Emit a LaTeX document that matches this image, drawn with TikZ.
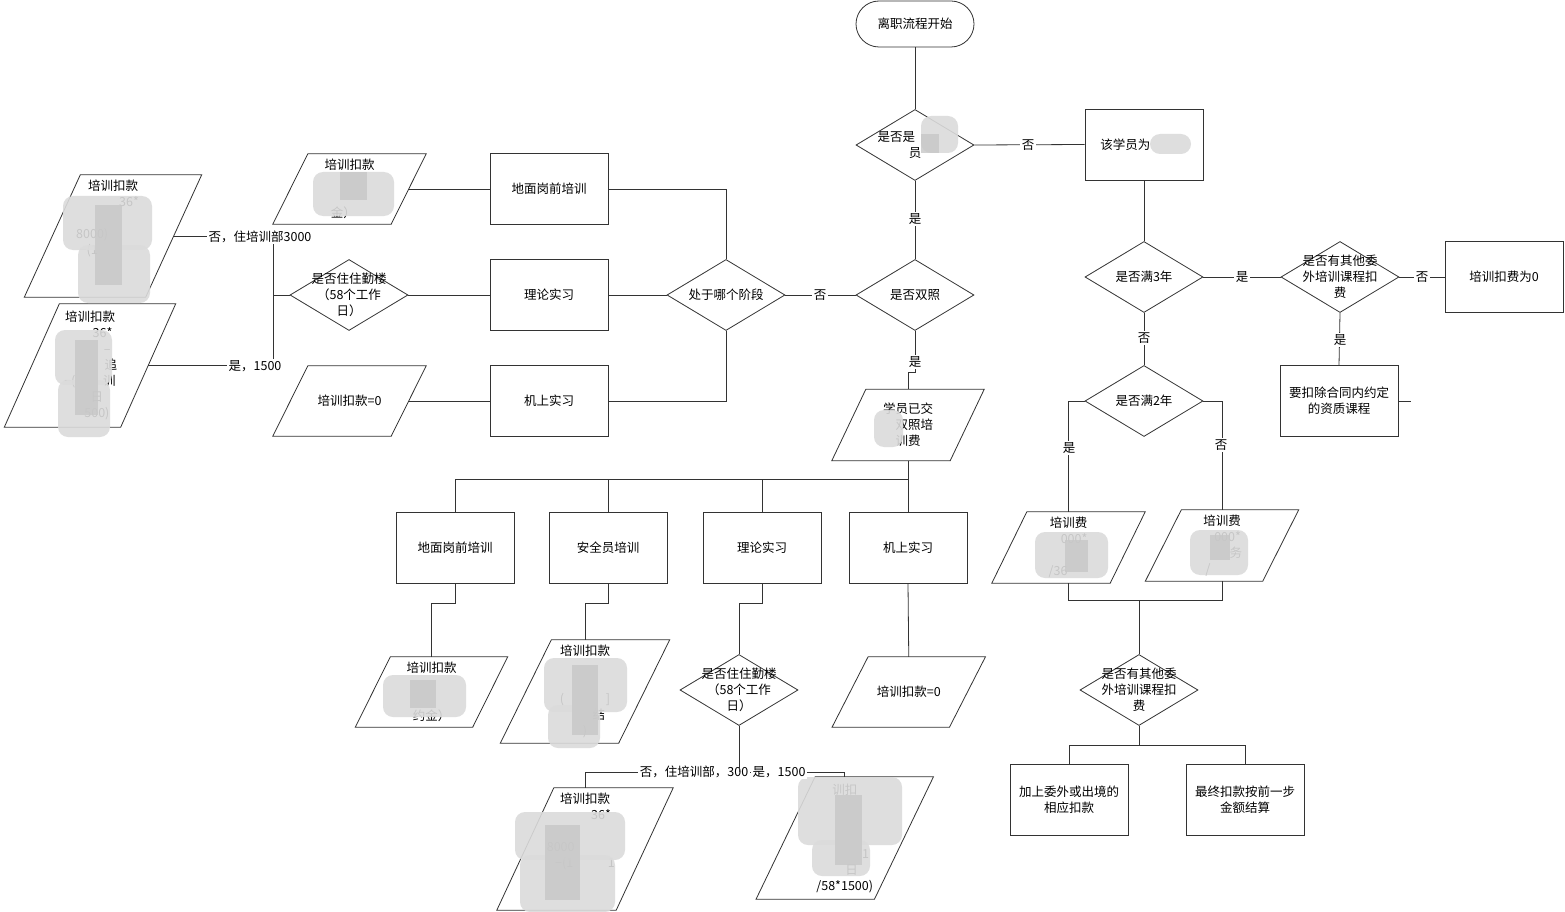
\documentclass[tikz,border=0pt]{standalone}
\usepackage{fontspec}
\newfontfamily\cjk{Noto Sans CJK SC}
\usetikzlibrary{shapes.geometric,calc}
\begin{document}
\begin{tikzpicture}[x=1pt,y=-1pt,
  every node/.style={font=\cjk\fontsize{12.5}{16}\selectfont, align=center, inner sep=0pt},
  ln/.style={draw=black!80, line width=0.8pt},
  box/.style={draw=black!80, line width=0.8pt, rectangle, minimum width=118pt, minimum height=71pt},
  term/.style={draw=black!80, line width=0.8pt, rectangle, rounded corners=23pt, minimum width=118pt, minimum height=46pt},
  dia/.style={draw=black!80, line width=0.8pt, diamond, minimum width=118pt, minimum height=71pt},
  pgram/.style 2 args={minimum width=#1pt, minimum height=#2pt},
  lbl/.style={fill=white, inner sep=1.5pt},
  blob/.style={fill=black!14, draw=none, rounded corners=10pt, fill opacity=0.9},
  blobd/.style={fill=black!22, draw=none, fill opacity=0.8}
]
\useasboundingbox[fill=white] (0,0) rectangle (1565,912);

% ---------- centre column ----------
\node[term] (start) at (915,24) {离职流程开始};
\node[dia] (d1) at (915,145) {};
\node (d1t) at (915,145) {是否是\phantom{乘务员}\\员};
\node[dia] (d2) at (915,295) {};
\node (d2t) at (915,295) {是否双照};
\node[dia] (d3) at (726,295) {};
\node (d3t) at (726,295) {处于哪个阶段};

% ---------- left upper ----------
\node[box] (g1) at (549,189) {地面岗前培训};
\node[box] (g2) at (549,295) {理论实习};
\node[box] (g3) at (549,401) {机上实习};
\node[pgram={118}{70}] (pC) at (349.5,189) {培训扣款\\ \strut\\ \strut\\ 金）\hphantom{约}};
\node[dia] (d4) at (349,295) {};
\node (d4t) at (349,295) {是否住住勤楼\\（58个工作\\日）};
\node[pgram={118}{70}] (pD) at (349.5,401) {培训扣款=0};
\node[pgram={121}{122}] (pA) at (113,236) {培训扣款\\ \hphantom{(3000}36*\\ \strut\\ 8000)\hphantom{000000}\\ −(1\hphantom{0000000}\\ \strut\\ \strut};
\node[pgram={116}{123}] (pB) at (90,365.5) {培训扣款\\ \hphantom{(300}36*\\ \hphantom{00000}–\\ \hphantom{000000}追\\ −(\hphantom{0000}训\\ \hphantom{00}日\\ \hphantom{00}500)};

% ---------- right ----------
\node[box] (bx) at (1144,144.5) {该学员为\phantom{乘务员}};
\node[dia] (d6) at (1144,277) {};
\node (d6t) at (1144,277) {是否满3年};
\node[dia] (d7) at (1340,277) {};
\node (d7t) at (1340,277) {是否有其他委\\外培训课程扣\\费};
\node[box] (bz) at (1504,277) {培训扣费为0};
\node[box] (bw) at (1339,401) {要扣除合同内约定\\的资质课程};
\node[dia] (d8) at (1144,401) {};
\node (d8t) at (1144,401) {是否满2年};
\node[pgram={118}{71}] (pK) at (1068.5,547.5) {培训费\\ \hphantom{(3}000*\\ \strut\\ /36\hphantom{000}};
\node[pgram={117}{71}] (pL) at (1222,545.5) {培训费\\ \hphantom{(3}000*\\ \hphantom{0000}务\\ /\hphantom{0000}};
\node[dia] (d9) at (1139,690) {};
\node (d9t) at (1139,690) {是否有其他委\\外培训课程扣\\费};
\node[box] (f1) at (1069,800) {加上委外或出境的\\相应扣款};
\node[box] (f2) at (1245,800) {最终扣款按前一步\\金额结算};

% ---------- bottom middle ----------
\node[pgram={118}{71}] (pE) at (908,425) {学员已交\\ \phantom{学}双照培\\ 训费};
\node[box] (h1) at (455,548) {地面岗前培训};
\node[box] (h2) at (608,548) {安全员培训};
\node[box] (h3) at (762,548) {理论实习};
\node[box] (h4) at (908,548) {机上实习};
\node[pgram={117}{70}] (pF) at (431.5,692) {培训扣款\\ \strut\\ \strut\\ 约金）};
\node[pgram={118}{103}] (pG) at (585,691.5) {培训扣款\\ \strut\\ \strut\\ (\hphantom{000000}]\\ \hphantom{0000}结\\ )};
\node[dia] (d5) at (739,690) {};
\node (d5t) at (739,690) {是否住住勤楼\\（58个工作\\日）};
\node[pgram={117}{70}] (pH) at (908.75,692) {培训扣款=0};
\node[pgram={119}{122}] (pI) at (585,849) {培训扣款\\ \hphantom{(3000}36*\\ \strut\\ 8000\hphantom{0000000}\\ −(1\hphantom{00000}1\\ \strut\\ \strut};
\node[pgram={118}{122}] (pJ) at (844.75,838) {\hphantom{培}训扣\hphantom{款}\\ \strut\\ \strut\\ \strut\\ \hphantom{000000}1\\ \hphantom{00}日\\ /58*1500)};

% ---------- parallelogram outlines ----------
\foreach \n/\s in {pA/56,pB/55,pC/35,pD/35,pE/34,pF/35,pG/51,pH/36,pI/57,pJ/59,pK/35,pL/36}
  \draw[ln] ([xshift=\s*0.5pt]\n.north west) -- ([xshift=\s*0.5pt]\n.north east)
        -- ([xshift=-\s*0.5pt]\n.south east) -- ([xshift=-\s*0.5pt]\n.south west) -- cycle;

% ---------- connectors ----------
\draw[ln] (start.south) -- (d1.north);
\draw[ln] (d1.south) -- (d2.north);
\draw[ln] (d1.east) -- (bx.west);
\draw[ln] (d2.west) -- (d3.east);
\draw[ln] (d3.north) |- (g1.east);
\draw[ln] (d3.west) -- (g2.east);
\draw[ln] (d3.south) |- (g3.east);
\draw[ln] (g1.west) -- (pC.east);
\draw[ln] (g2.west) -- (d4.east);
\draw[ln] (g3.west) -- (pD.east);
\coordinate (j1) at (273,295);
\draw[ln] (d4.west) -- (j1);
\draw[ln] (j1) |- (pA.east);
\draw[ln] (j1) |- (pB.east);

\coordinate (c1) at (915,372);
\draw[ln] (d2.south) -- (c1) -| (pE.north);
\coordinate (bus1) at (908,479);
\draw[ln] (pE.south) -- (bus1);
\foreach \b in {h1,h2,h3,h4} \draw[ln] (bus1) -| (\b.north);
\draw[ln] (h1.south) -- ([yshift=-19pt]h1.south) -| (pF.north);
\draw[ln] (h2.south) -- ([yshift=-19pt]h2.south) -| (pG.north);
\draw[ln] (h3.south) -- ([yshift=-19pt]h3.south) -| (d5.north);
\draw[ln] (h4.south) -- (pH.north);
\coordinate (c2) at (739,772);
\draw[ln] (c2) -| (pI.north);
\draw[ln] (c2) -| (pJ.north);

\draw[ln] (bx.south) -- (d6.north);
\draw[ln] (d6.east) -- (d7.west);
\draw[ln] (d7.east) -- (bz.west);
\draw[ln] (d7.south) -- (bw.north);
\coordinate (stub) at (1411,401);
\draw[ln] (bw.east) -- (stub);
\draw[ln] (d6.south) -- (d8.north);
\draw[ln] (d8.west) -| (pK.north);
\draw[ln] (d8.east) -| (pL.north);
\coordinate (c3) at (1139,600);
\draw[ln] (pK.south) |- (c3);
\draw[ln] (pL.south) |- (c3);
\draw[ln] (c3) -- (d9.north);
\coordinate (c4) at (1139,745);
\draw[ln] (d9.south) -- (c4);
\draw[ln] (c4) -| (f1.north);
\draw[ln] (c4) -| (f2.north);

% ---------- blurred areas ----------
\fill[blob] (921,116) rectangle (958,153);
\fill[blobd] (921,134) rectangle (939,153);
\fill[blob] (1150,134) rectangle (1191,154);
\fill[blob] (313,172) rectangle (394,216);
\fill[blobd] (340,172) rectangle (367,200);
\fill[blob] (63,196) rectangle (152,250);
\fill[blob] (78,245) rectangle (150,303);
\fill[blobd] (95,205) rectangle (122,285);
\fill[blob] (55,330) rectangle (112,385);
\fill[blob] (58,380) rectangle (110,437);
\fill[blobd] (75,340) rectangle (98,415);
\fill[blob] (874,410) rectangle (903,447);
\fill[blob] (383,675) rectangle (466,717);
\fill[blobd] (410,680) rectangle (436,708);
\fill[blob] (544,658) rectangle (627,712);
\fill[blob] (548,705) rectangle (600,748);
\fill[blobd] (572,665) rectangle (598,735);
\fill[blob] (515,812) rectangle (625,860);
\fill[blob] (520,855) rectangle (615,912);
\fill[blobd] (545,825) rectangle (580,900);
\fill[blob] (798,777) rectangle (902,845);
\fill[blob] (812,840) rectangle (870,876);
\fill[blobd] (835,795) rectangle (862,865);
\fill[blob] (1035,532) rectangle (1108,578);
\fill[blobd] (1065,540) rectangle (1088,572);
\fill[blob] (1190,530) rectangle (1248,575);
\fill[blobd] (1210,535) rectangle (1230,560);

% ---------- connector labels ----------
\node[lbl] (l1) at (915,219) {是};
\node[lbl] (l2) at (1028,145) {否};
\node[lbl] (l3) at (820,295) {否};
\node[lbl] (l4) at (260,237) {否，住培训部3000};
\node[lbl] (l5) at (255,366) {是，1500};
\node[lbl] (l6) at (915,362) {是};
\node[lbl, anchor=east] (l7) at (750,772) {否，住培训部，300};
\node[lbl, anchor=west] (l8) at (751,772) {是，1500};
\draw[ln] (d5.south) -- (c2);
\node[lbl] (l9) at (1242,277) {是};
\node[lbl] (l10) at (1422,277) {否};
\node[lbl] (l11) at (1340,340) {是};
\node[lbl] (l12) at (1144,338) {否};
\node[lbl] (l13) at (1069,448) {是};
\node[lbl] (l14) at (1221,445) {否};
\end{tikzpicture}
\end{document}
